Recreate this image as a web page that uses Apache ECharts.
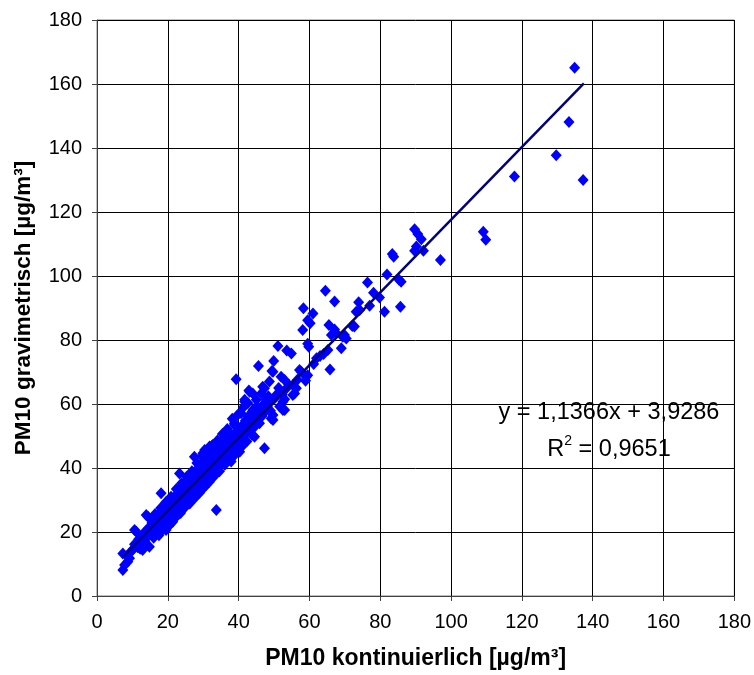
<!DOCTYPE html>
<html>
<head>
<meta charset="utf-8">
<script src="https://cdn.jsdelivr.net/npm/echarts@6/dist/echarts.min.js"></script>
<style>html,body{margin:0;padding:0;background:#fff;}#c{width:754px;height:675px;}</style>
</head>
<body>
<div id="c"></div>
<script>
// Measured pairs: [PM10 kontinuierlich, PM10 gravimetrisch]
const points = [
[7.3,13.3],[7.3,8.1],[7.8,9.7],[8.7,10.7],[8.5,12.5],[9.2,11.8],[9.5,13.8],[10.2,14.5],[10.6,16.2],[10.6,20.6],
[11.1,16.5],[11.1,20.1],[11.5,15.2],[11.8,17.8],[12.2,14.8],[12.5,18.5],[12.9,14.4],[12.8,16.3],[13.2,19.5],[13.5,17.2],
[13.8,20.4],[13.9,25.3],[14.2,18.5],[14.4,24.8],[14.6,21.2],[14.8,15.4],[14.9,19.4],[15.3,22.1],[15.6,20.3],[15.8,23.5],
[15.2,20.1],[15.5,22.8],[15.9,19.6],[16.1,21.5],[16.3,23.9],[16.6,20.8],[16.8,22.4],[17.0,25.2],[17.2,19.9],[17.4,23.1],
[17.7,21.7],[17.9,24.6],[18.1,32.1],[18.2,22.3],[18.4,26.0],[18.6,20.9],[18.8,24.1],[19.0,27.3],[19.1,22.8],[19.3,25.5],
[19.5,20.6],[19.6,23.9],[19.8,28.2],[20.0,26.1],[20.1,22.4],[20.3,24.7],[20.5,29.6],[20.6,27.0],[20.8,25.3],[21.0,23.0],
[21.1,28.8],[21.4,23.2],[21.5,26.4],[21.7,30.5],[21.9,27.6],[22.1,25.0],[22.3,29.1],[22.5,31.8],[22.6,26.6],[22.8,28.4],
[23.0,33.2],[23.1,27.9],[23.3,38.3],[23.4,30.2],[23.6,25.9],[23.8,31.4],[24.0,29.3],[24.1,34.1],[24.3,27.7],[24.5,32.6],
[24.7,30.0],[24.9,35.0],[25.0,28.8],[25.2,33.0],[25.4,31.1],[25.6,36.2],[25.8,29.8],[26.0,34.4],[26.1,32.3],[26.3,37.1],
[26.5,30.9],[26.7,35.5],[26.9,33.6],[27.1,31.7],[27.3,38.4],[27.5,43.5],[27.5,34.8],[27.7,36.6],[27.9,32.9],[28.1,39.3],
[28.3,35.7],[28.5,37.8],[28.7,33.8],[28.9,40.6],[29.1,36.4],[29.3,38.9],[29.5,34.9],[29.7,41.2],[29.9,44.6],[30.0,37.6],
[30.2,39.8],[30.4,45.6],[30.4,36.2],[30.6,42.0],[30.8,34.7],[30.8,43.5],[31.0,38.7],[31.2,40.9],[31.4,37.2],[31.6,43.1],
[31.8,46.7],[31.9,39.5],[32.1,41.8],[32.3,38.3],[32.5,44.2],[32.7,47.2],[32.8,40.6],[33.0,42.9],[33.2,40.4],[33.4,45.0],
[33.7,26.9],[33.6,41.5],[33.9,43.8],[34.1,39.9],[34.3,46.1],[34.5,42.4],[34.8,44.9],[35.1,47.7],[35.2,41.3],[35.5,48.2],
[35.6,45.3],[35.9,43.0],[36.0,49.3],[36.3,46.4],[36.6,44.1],[36.9,47.8],[37.2,45.2],[37.4,45.6],[37.7,48.9],[37.9,42.0],
[38.1,50.3],[38.4,47.2],[38.4,43.5],[38.6,46.0],[38.8,54.0],[38.8,53.4],[39.0,49.6],[39.3,51.3],[39.3,67.7],[39.5,47.5],
[39.8,50.7],[40.0,48.1],[40.3,48.8],[40.3,45.1],[40.5,52.6],[40.7,57.1],[40.9,50.0],[41.2,53.5],[41.5,49.2],[41.7,61.3],
[41.9,54.8],[42.1,50.8],[42.4,52.1],[42.7,56.0],[42.9,64.2],[43.1,55.0],[43.4,53.3],[43.7,57.4],[44.0,58.1],[44.0,52.4],
[44.0,63.3],[44.3,55.9],[44.5,52.9],[44.5,49.8],[44.8,57.0],[45.0,61.3],[45.0,59.2],[45.3,54.6],[45.6,71.9],[45.9,54.0],
[46.1,58.6],[46.4,63.3],[46.6,56.2],[46.8,58.1],[46.8,65.4],[47.1,60.0],[47.3,64.9],[47.3,46.2],[47.6,57.7],[47.8,61.3],
[48.1,59.3],[48.4,62.4],[48.7,67.0],[48.7,60.2],[49.0,57.9],[49.2,55.5],[49.4,70.3],[49.7,56.6],[49.7,70.1],[49.9,73.4],
[50.2,61.8],[50.6,62.8],[51.1,78.1],[51.3,65.0],[51.6,59.2],[52.0,68.5],[52.3,63.0],[52.5,60.7],[53.0,67.5],[53.0,58.1],
[53.0,61.5],[53.4,64.8],[53.6,76.7],[54.2,66.0],[54.9,75.8],[55.3,65.9],[55.8,63.3],[56.3,64.9],[56.6,67.6],[57.2,70.6],
[57.7,70.1],[58.1,83.1],[58.3,89.9],[58.9,67.3],[59.1,68.5],[59.5,69.0],[59.5,86.2],[59.5,78.8],[59.8,77.9],[60.2,85.2],
[61.0,88.3],[61.2,72.5],[62.0,74.3],[63.0,75.0],[64.0,75.6],[64.5,95.4],[65.2,76.9],[65.5,84.7],[65.8,70.8],[66.2,81.6],
[67.1,92.0],[67.1,83.3],[67.6,82.1],[69.0,77.4],[69.4,81.0],[69.9,81.6],[70.4,80.5],[72.1,84.4],[72.7,84.2],[73.2,88.8],
[73.9,91.8],[74.2,89.4],[76.4,98.0],[77.0,90.7],[78.1,94.8],[79.8,93.3],[81.2,88.8],[81.9,100.5],[83.4,106.9],[83.8,106.0],
[85.3,98.8],[85.9,98.2],[85.7,90.4],[89.7,114.6],[90.6,113.1],[91.6,111.5],[90.2,109.2],[89.7,107.9],[92.2,107.9],[97.0,105.0],
[109.1,113.8],[109.8,111.3],[117.9,131.1],[129.7,137.7],[133.3,148.1],[134.9,165.1],[137.3,130.0],
[16.0,18.2],[17.5,19.0],[18.9,21.0],[20.4,22.0],[21.8,24.1],[23.2,25.8],[24.6,27.4],[26.2,28.9],[27.6,30.6],[29.0,32.3],
[30.3,34.0],[31.7,35.6],[33.1,37.4],[34.6,39.0],[36.1,41.0],[37.5,42.6],[39.1,44.5],[40.8,46.6],[42.3,48.3],[43.8,50.3],
[16.4,25.6],[18.0,27.5],[19.4,29.3],[20.9,31.0],[22.4,33.4],[23.9,35.2],[25.3,37.3],[26.8,39.0],[28.2,41.6],[29.6,43.6],
[31.1,45.4],[32.4,46.9],[34.0,48.6],[35.4,50.6],[36.8,52.2],[38.2,55.4],[39.7,56.6],[41.3,58.9],[42.6,60.3],[43.1,63.8],
[41.7,60.7],[52.5,58.1],[49.7,55.0],[55.3,62.8]
];
const trendSlope = 1.1366;
const trendIntercept = 3.9286;
const trendX = [7.3, 137.5];
const equationText = 'y = 1,1366x + 3,9286';
const r2Parts = ['R', '2', ' = 0,9651'];
const xTitle = 'PM10 kontinuierlich [µg/m³]';
const yTitle = 'PM10 gravimetrisch [µg/m³]';

const trend = trendX.map(x => [x, trendSlope * x + trendIntercept]);
const FONT = "'Liberation Sans', Arial, sans-serif";

const chart = echarts.init(document.getElementById('c'), null, {renderer: 'canvas'});
chart.setOption({
  animation: false,
  backgroundColor: '#fff',
  grid: {left: 97, right: 19, top: 20, bottom: 79, show: true, borderColor: '#808080', borderWidth: 1},
  xAxis: {
    type: 'value', min: 0, max: 180, interval: 20,
    name: xTitle, nameLocation: 'middle', nameGap: 51,
    nameTextStyle: {fontFamily: FONT, fontWeight: 'bold', fontSize: 23, color: '#000'},
    axisLine: {onZero: false, lineStyle: {color: '#404040', width: 1}},
    axisTick: {show: true, inside: false, length: 5, lineStyle: {color: '#404040'}},
    axisLabel: {fontFamily: FONT, fontSize: 20, color: '#000', margin: 16},
    splitLine: {show: true, lineStyle: {color: '#000', width: 1}}
  },
  yAxis: {
    type: 'value', min: 0, max: 180, interval: 20,
    name: yTitle, nameLocation: 'middle', nameGap: 62, nameRotate: 90,
    nameTextStyle: {fontFamily: FONT, fontWeight: 'bold', fontSize: 22.5, color: '#000'},
    axisLine: {onZero: false, lineStyle: {color: '#404040', width: 1}},
    axisTick: {show: true, inside: false, length: 5, lineStyle: {color: '#404040'}},
    axisLabel: {fontFamily: FONT, fontSize: 20, color: '#000', margin: 15},
    splitLine: {show: true, lineStyle: {color: '#000', width: 1}}
  },
  series: [
    {type: 'scatter', data: points, symbol: 'diamond', symbolSize: [11, 12],
     itemStyle: {color: '#0000FF', opacity: 1}, z: 2},
    {type: 'line', data: trend, showSymbol: false, symbol: 'none',
     lineStyle: {color: '#000080', width: 2.5}, z: 3}
  ],
  graphic: [
    {type: 'text', x: 609, y: 401, style: {text: equationText, font: "23.5px " + FONT, fill: '#000', align: 'center'}},
    {type: 'text', x: 609, y: 434, style: {
      text: '{a|' + r2Parts[0] + '}{b|' + r2Parts[1] + '}{a|' + r2Parts[2] + '}',
      align: 'center',
      rich: {
        a: {fontFamily: FONT, fontSize: 23.5, fill: '#000', color: '#000', lineHeight: 28, verticalAlign: 'bottom'},
        b: {fontFamily: FONT, fontSize: 14, fill: '#000', color: '#000', lineHeight: 28, verticalAlign: 'top', padding: [0, 0, 12, 0]}
      }
    }}
  ]
});
</script>
</body>
</html>
